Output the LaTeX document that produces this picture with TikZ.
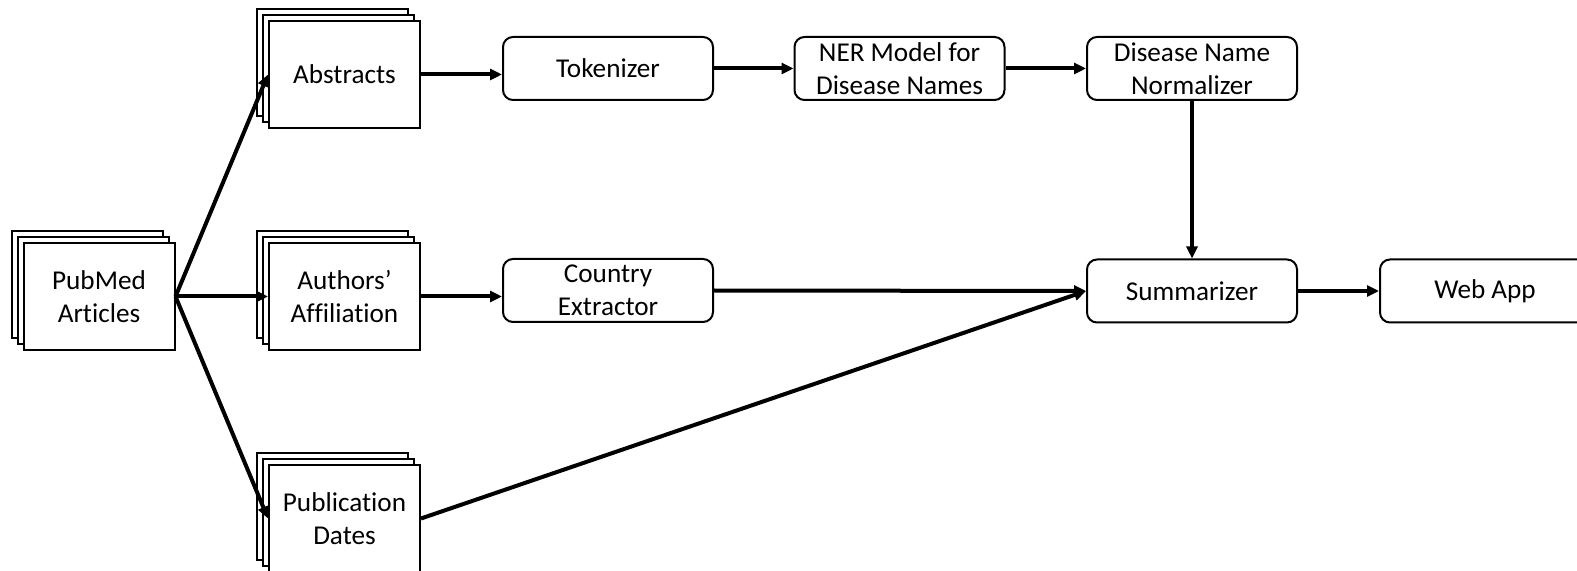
\documentclass[tikz,border=0pt]{standalone}
\usepackage{fontspec}
\setmainfont[Ligatures={NoCommon}]{Carlito}
\usetikzlibrary{arrows.meta,shadows}
\begin{document}
\begin{tikzpicture}[x=0.5pt,y=-0.5pt,
  font=\fontsize{13.6}{16.5}\selectfont,
  docstack/.style={draw, line width=1pt, fill=white, minimum width=75.5pt, minimum height=53.5pt,
    inner sep=0pt, align=center,
    double copy shadow={shadow xshift=-3pt, shadow yshift=3pt, draw, fill=white, line width=1pt}},
  procbox/.style={draw, line width=1pt, fill=white, rounded corners=5pt, minimum width=105pt,
    minimum height=31.5pt, inner sep=0pt, align=center},
  conn/.style={line width=2pt, -{Triangle[length=6pt,width=5.5pt]}}]
\useasboundingbox (0,0) rectangle (1577,571);
\node[docstack] (pub) at (99,296.5) {PubMed\\Articles};
\node[docstack] (abs) at (344.5,74.5) {Abstracts};
\node[docstack] (aff) at (344.5,296.5) {Authors’\\Affiliation};
\node[docstack] (dat) at (344.5,518.5) {Publication\\Dates};
\node[procbox] (tok) at (608,68.5) {Tokenizer};
\node[procbox] (ner) at (899.5,68.5) {NER Model for\\Disease Names};
\node[procbox] (nor) at (1192,68.5) {Disease Name\\Normalizer};
\node[procbox] (cty) at (608,290.5) {Country\\Extractor};
\node[procbox] (sum) at (1192,291) {Summarizer};
\node[procbox] (web) at (1485,291) {Web App};
\draw[conn] (pub.east) -- (abs.west);
\draw[conn] (pub.east) -- (aff.west);
\draw[conn] (pub.east) -- (dat.west);
\draw[conn] (abs.east) -- (abs.east -| tok.west);
\draw[conn] (tok) -- (ner);
\draw[conn] (ner) -- (nor);
\draw[conn] (nor) -- (sum);
\draw[conn] (aff.east) -- (aff.east -| cty.west);
\draw[conn] (cty.east) -- (sum.west);
\draw[conn] (dat.east) -- (sum.west);
\draw[conn] (sum) -- (web);
\end{tikzpicture}
\end{document}
